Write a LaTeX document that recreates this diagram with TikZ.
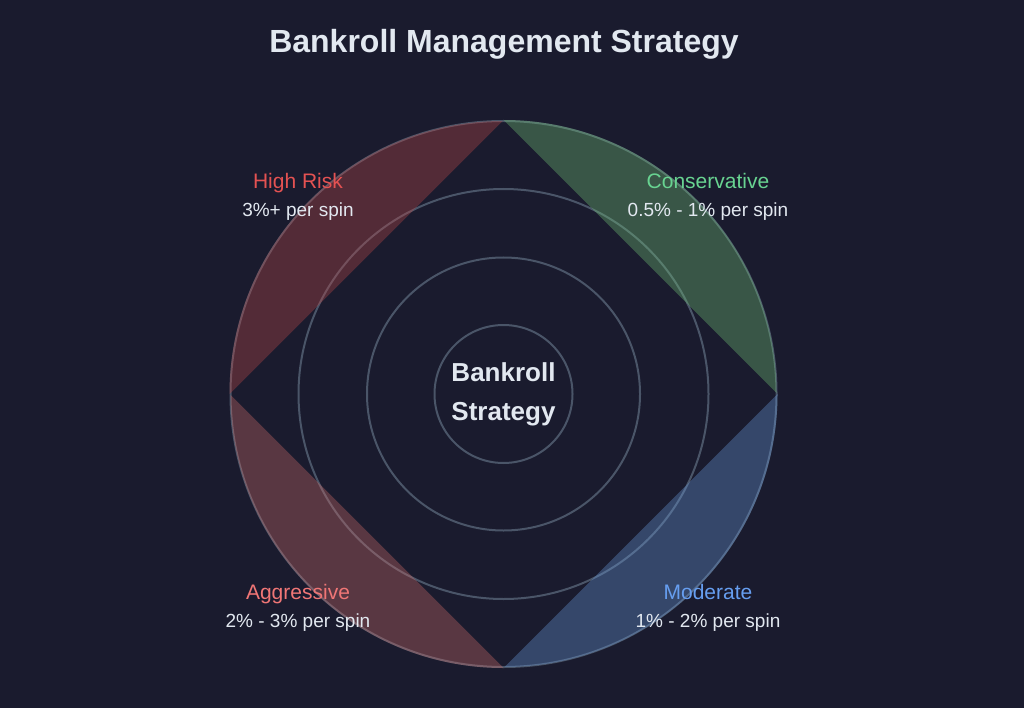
\documentclass[tikz,border=0pt]{standalone}
\usepackage{fontspec}
\setmainfont{Liberation Sans}
\definecolor{bg}{RGB}{26,27,46}
\definecolor{ringc}{RGB}{74,85,104}
\definecolor{txt}{RGB}{226,232,240}
\definecolor{hrlab}{RGB}{228,82,82}
\definecolor{cvlab}{RGB}{104,211,145}
\definecolor{aglab}{RGB}{240,118,118}
\definecolor{mdlab}{RGB}{102,158,240}
\definecolor{hrfill}{RGB}{192,73,72}
\definecolor{cvfill}{RGB}{115,198,120}
\definecolor{agfill}{RGB}{209,110,106}
\definecolor{mdfill}{RGB}{106,155,220}
\tikzset{
  ring/.style={circle, draw=ringc, line width=2pt, inner sep=0pt},
  seg/.style={fill opacity=0.35, draw=none},
  lbl/.style={anchor=base, inner sep=0pt, font=\fontsize{21}{25}\selectfont},
  sub/.style={anchor=base, inner sep=0pt, text=txt, font=\fontsize{19}{23}\selectfont},
  ctrtext/.style={anchor=base, inner sep=0pt, text=txt, font=\bfseries\fontsize{26}{31}\selectfont},
}
\begin{document}
\begin{tikzpicture}[x=1pt,y=-1pt]
\fill[bg] (0,0) rectangle (1024,708);
\useasboundingbox (0,0) rectangle (1024,708);
\coordinate (c) at (503.5,394);
\node[anchor=base, inner sep=0pt, text=txt, font=\bfseries\fontsize{32}{38}\selectfont] (title) at (504,53) {Bankroll Management Strategy};
% rings
\node[ring, minimum size=546pt] (r4) at (c) {};
\node[ring, minimum size=410pt] (r3) at (c) {};
\node[ring, minimum size=273pt] (r2) at (c) {};
\node[ring, minimum size=138pt] (r1) at (c) {};
% segments
\path[seg, fill=hrfill] (r4.west) arc[start angle=180, end angle=90, radius=273pt] -- cycle;
\path[seg, fill=cvfill] (r4.north) arc[start angle=90, end angle=0, radius=273pt] -- cycle;
\path[seg, fill=mdfill] (r4.east) arc[start angle=0, end angle=-90, radius=273pt] -- cycle;
\path[seg, fill=agfill] (r4.south) arc[start angle=270, end angle=180, radius=273pt] -- cycle;
% centre
\node[ctrtext] (ctr1) at (503.5,381) {Bankroll};
\node[ctrtext] (ctr2) at (503.5,420) {Strategy};
% labels
\node[lbl, text=hrlab] (hr) at (298,189) {High Risk};
\node[sub] (hrs) at (298,217) {3\%+ per spin};
\node[lbl, text=cvlab] (cv) at (708,189) {Conservative};
\node[sub] (cvs) at (708,217) {0.5\% - 1\% per spin};
\node[lbl, text=aglab] (ag) at (298,599) {Aggressive};
\node[sub] (ags) at (298,627) {2\% - 3\% per spin};
\node[lbl, text=mdlab] (md) at (708,599) {Moderate};
\node[sub] (mds) at (708,627) {1\% - 2\% per spin};
\end{tikzpicture}
\end{document}
